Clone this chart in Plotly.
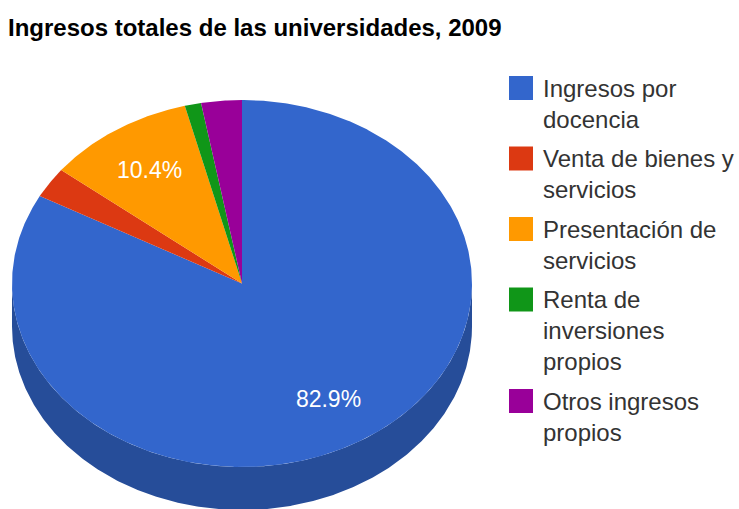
import numpy as np
import plotly.graph_objects as go

TITLE = "Ingresos totales de las universidades, 2009"
categories = ["Ingresos por<br>docencia", "Venta de bienes y<br>servicios",
              "Presentación de<br>servicios", "Renta de<br>inversiones<br>propios",
              "Otros ingresos<br>propios"]
values = [82.9, 2.7, 10.4, 1.15, 2.85]
colors = ["#3366cc", "#dc3912", "#ff9900", "#109618", "#990099"]
side_colors = ["#264d99", "#a52b0e", "#bf7300", "#0c7112", "#730073"]
SHOW_LABEL = 5.0  # percent threshold for in-slice labels

W, H = 739, 509
CX, CY, RX, RY, DEPTH = 242, 283.5, 230, 183.5, 43

def arc(p0, p1):
    t = 2 * np.pi * np.linspace(p0, p1, max(int((p1 - p0) * 8), 2) + 1) / 100
    return np.sin(t), np.cos(t)

fig = go.Figure()
d = DEPTH / RY
cum = np.concatenate([[0], np.cumsum(values)])
# side wall: visible part is the lower half of the ellipse
for i, v in enumerate(values):
    a, b = max(cum[i], 25), min(cum[i + 1], 75)
    if b > a:
        x, y = arc(a, b)
        fig.add_trace(go.Scatter(
            x=np.concatenate([x, x[::-1]]), y=np.concatenate([y, y[::-1] - d]),
            mode="lines", fill="toself", fillcolor=side_colors[i],
            line=dict(width=0), hoverinfo="skip", showlegend=False))
# top surface
for i, v in enumerate(values):
    x, y = arc(cum[i], cum[i + 1])
    fig.add_trace(go.Scatter(
        x=np.concatenate([[0], x, [0]]), y=np.concatenate([[0], y, [0]]),
        mode="lines", fill="toself", fillcolor=colors[i],
        line=dict(width=0), name=categories[i].replace("<br>", " "),
        hoverinfo="name", showlegend=False))
# in-slice labels
for i, v in enumerate(values):
    if v >= SHOW_LABEL:
        m = 2 * np.pi * (cum[i] + cum[i + 1]) / 200
        fig.add_trace(go.Scatter(
            x=[0.735 * np.sin(m)], y=[0.735 * np.cos(m) - 2 / RY], mode="text",
            text=[f"{v:.1f}%"], textposition="middle center",
            textfont=dict(family="Liberation Sans", size=23, color="white"),
            hoverinfo="skip", showlegend=False))

# legend
LX, LY, SW, LH, GAP = 509, 76, 24, 31, 8.5
y0 = LY
shapes, annos = [], []
for name, col in zip(categories, colors):
    shapes.append(dict(type="rect", xref="paper", yref="paper",
                       x0=LX / W, x1=(LX + SW) / W, y0=1 - y0 / H, y1=1 - (y0 + SW) / H,
                       fillcolor=col, line=dict(width=0)))
    parts = name.split("<br>")
    for j, part in enumerate(parts):
        annos.append(dict(xref="paper", yref="paper", x=541 / W, y=1 - (y0 + 12 + j * LH) / H,
                          xanchor="left", yanchor="middle", showarrow=False, text=part,
                          font=dict(family="Liberation Sans", size=24, color="#333333")))
    y0 += len(parts) * LH + GAP

annos.append(dict(xref="paper", yref="paper", x=6 / W, y=1 - 28 / H, xanchor="left", yanchor="middle",
                  showarrow=False, text=f"<b>{TITLE}</b>",
                  font=dict(family="Liberation Sans", size=24, color="#000000")))

fig.update_layout(
    width=W, height=H, margin=dict(l=0, r=0, t=0, b=0),
    paper_bgcolor="white", plot_bgcolor="white", showlegend=False,
    xaxis=dict(range=[-CX / RX, (W - CX) / RX], visible=False, fixedrange=True),
    yaxis=dict(range=[(CY - H) / RY, CY / RY], visible=False, fixedrange=True),
    shapes=shapes, annotations=annos)
fig.write_html("out.html", config=dict(displayModeBar=False),
               post_script="document.body.style.margin='0';document.body.style.overflow='hidden';")
